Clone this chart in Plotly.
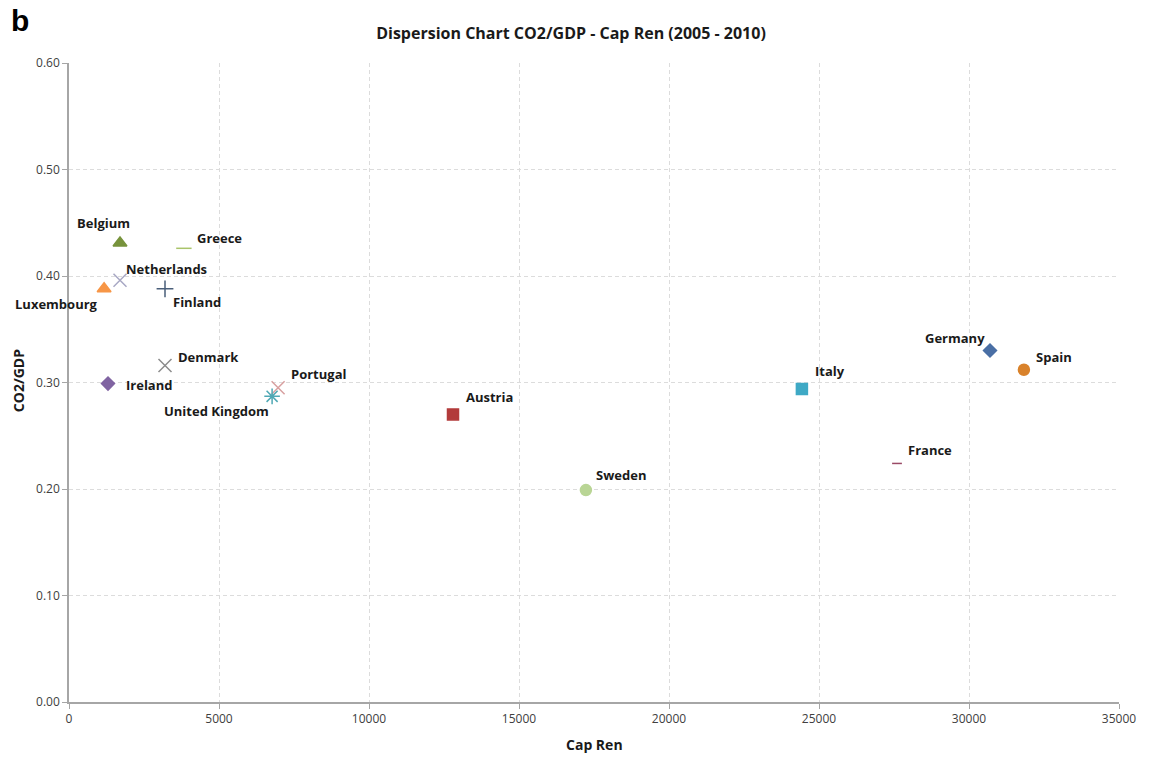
import plotly.graph_objects as go

# Renewable capacity vs. CO2 intensity, averages 2005-2010
countries = ["Germany", "Spain", "Italy", "France", "Austria", "Sweden",
             "Belgium", "Greece", "Netherlands", "Luxembourg", "Finland",
             "Denmark", "Ireland", "Portugal", "United Kingdom"]
cap_ren = [30700, 31830, 24430, 27600, 12800, 17230,
           1700, 3830, 1700, 1170, 3200,
           3200, 1300, 6970, 6770]
co2_gdp = [0.330, 0.312, 0.294, 0.224, 0.270, 0.199,
           0.431, 0.426, 0.396, 0.388, 0.388,
           0.316, 0.299, 0.295, 0.287]

x_ticks = [0, 5000, 10000, 15000, 20000, 25000, 30000, 35000]
y_ticks = [0.0, 0.1, 0.2, 0.3, 0.4, 0.5, 0.6]

# Marker style per country
symbols = {
    "Germany": "diamond", "Spain": "circle", "Italy": "square",
    "France": "line-ew-open", "Austria": "square", "Sweden": "circle",
    "Belgium": "triangle-up", "Greece": "line-ew-open",
    "Netherlands": "x-thin-open", "Luxembourg": "triangle-up",
    "Finland": "cross-thin-open", "Denmark": "x-thin-open",
    "Ireland": "diamond", "Portugal": "x-thin-open",
    "United Kingdom": "asterisk-open",
}
colors = {
    "Germany": "#4A6FA5", "Spain": "#D9822B", "Italy": "#3FA9C5",
    "France": "#9A4A66", "Austria": "#B23B3B", "Sweden": "#B9D595",
    "Belgium": "#77933C", "Greece": "#A9C46A", "Netherlands": "#A8A8C4",
    "Luxembourg": "#F79646", "Finland": "#4A5F7A", "Denmark": "#8C8C8C",
    "Ireland": "#8064A2", "Portugal": "#D8A0A0", "United Kingdom": "#4FA8B4",
}
sizes = {
    "Germany": 10, "Spain": 11, "Italy": 11, "France": 7, "Austria": 11,
    "Sweden": 11, "Belgium": 12, "Greece": 11, "Netherlands": 13,
    "Luxembourg": 12, "Finland": 12, "Denmark": 13, "Ireland": 10,
    "Portugal": 13, "United Kingdom": 13,
}
# Label placement: (xanchor, xshift px, yshift px)
label_pos = {
    "Germany": ("right", -3, 13), "Spain": ("left", 10, 13),
    "Italy": ("left", 11, 18), "France": ("left", 9, 13),
    "Austria": ("left", 11, 17), "Sweden": ("left", 8, 15),
    "Belgium": ("center", -17, 20), "Greece": ("left", 11, 10),
    "Netherlands": ("left", 4, 11), "Luxembourg": ("right", -4, -15),
    "Finland": ("left", 6, -13), "Denmark": ("left", 11, 8),
    "Ireland": ("left", 16, -1), "Portugal": ("left", 11, 14),
    "United Kingdom": ("center", -56, -15),
}

FONT = "Open Sans, Liberation Sans, sans-serif"
TEXT = "#1a1a1a"

fig = go.Figure()
annotations = []
for name, xv, yv in zip(countries, cap_ren, co2_gdp):
    fig.add_trace(go.Scatter(
        x=[xv], y=[yv], mode="markers", name=name,
        marker=dict(symbol=symbols[name], size=sizes[name], color=colors[name],
                    line=dict(color=colors[name], width=1.5)),
        showlegend=False,
    ))
    anchor, dx, dy = label_pos[name]
    annotations.append(dict(
        x=xv, y=yv, xref="x", yref="y", text=f"<b>{name}</b>",
        showarrow=False, xanchor=anchor, yanchor="middle",
        xshift=dx, yshift=dy,
        font=dict(family=FONT, size=13, color=TEXT),
    ))

annotations += [
    dict(text="<b>b</b>", xref="paper", yref="paper", x=-0.057, y=1.067,
         xanchor="left", yanchor="middle", showarrow=False,
         font=dict(family="Liberation Sans, Arial, sans-serif", size=30, color="#000")),
    dict(text="<b>CO2/GDP</b>", xref="paper", yref="paper", x=-0.048, y=0.503,
         xanchor="center", yanchor="middle", textangle=-90, showarrow=False,
         font=dict(family=FONT, size=14, color=TEXT)),
    dict(text="<b>Cap Ren</b>", xref="paper", yref="paper", x=0.5, y=-0.067,
         xanchor="center", yanchor="middle", showarrow=False,
         font=dict(family=FONT, size=14, color=TEXT)),
]

axis_style = dict(
    showgrid=True, gridcolor="#DCDCDC", griddash="4px,3px", gridwidth=1,
    showline=True, linecolor="#A6A6A6", linewidth=1.5,
    ticks="outside", ticklen=5, tickcolor="#A6A6A6",
    zeroline=False, tickfont=dict(family=FONT, size=12, color="#404040"),
)

fig.update_layout(
    width=1149, height=757,
    margin=dict(l=69, r=30, t=63, b=55),
    paper_bgcolor="white", plot_bgcolor="white",
    title=dict(text="<b>Dispersion Chart CO2/GDP - Cap Ren (2005 - 2010)</b>",
               x=571 / 1149, xanchor="center", y=1 - 33 / 757, yanchor="middle",
               font=dict(family=FONT, size=16, color=TEXT)),
    annotations=annotations,
    xaxis=dict(range=[0, 35000], tickvals=x_ticks,
               ticktext=[str(v) for v in x_ticks], **axis_style),
    yaxis=dict(range=[0, 0.6], tickvals=y_ticks,
               ticktext=[f"{v:.2f}" for v in y_ticks], **axis_style),
)

fig.write_html("out.html")
